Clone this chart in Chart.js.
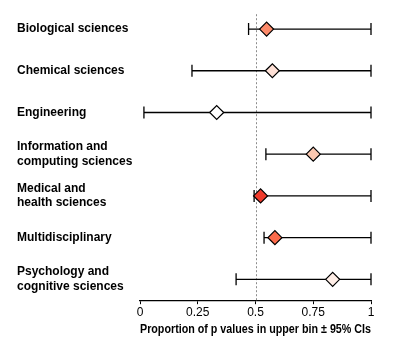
<!DOCTYPE html>
<html>
<head>
<meta charset="utf-8">
<script src="https://cdn.jsdelivr.net/npm/chart.js@4"></script>
<style>
  html, body { margin: 0; padding: 0; background: #ffffff; }
  #wrap { width: 400px; height: 345px; position: relative; }
</style>
</head>
<body>
<div id="wrap"><canvas id="chart"></canvas></div>
<script>
// Research fields (multi-line labels as arrays)
const fields = [
  ['Biological sciences'],
  ['Chemical sciences'],
  ['Engineering'],
  ['Information and', 'computing sciences'],
  ['Medical and', 'health sciences'],
  ['Multidisciplinary'],
  ['Psychology and', 'cognitive sciences']
];
// Proportion of p values in the upper bin
const proportion = [0.548, 0.573, 0.332, 0.750, 0.522, 0.584, 0.834];
// 95% confidence limits
const ciLower = [0.470, 0.225, 0.017, 0.545, 0.494, 0.537, 0.416];
const ciUpper = [1.000, 1.000, 1.000, 1.000, 1.000, 1.000, 1.000];
// Marker fill per field
const markerFill = ['#fc8a6a', '#fee0d6', '#ffffff', '#fcc8b0', '#ef3b2c', '#fb6b4b', '#ffeee7'];
const xTicks = [0, 0.25, 0.5, 0.75, 1];

const points = proportion.map((v, i) => ({ x: v, y: i }));
const FONT = 'Liberation Sans, Arial, sans-serif';

// Reference line at 0.5 and the confidence-interval whiskers
const whiskers = {
  id: 'whiskers',
  beforeDatasetsDraw(chart) {
    const { ctx, chartArea, scales: { x, y } } = chart;
    ctx.save();
    ctx.strokeStyle = '#8c8c8c';
    ctx.lineWidth = 1;
    ctx.setLineDash([2, 2]);
    const xr = Math.round(x.getPixelForValue(0.5)) + 0.5;
    ctx.beginPath();
    ctx.moveTo(xr, chartArea.top + 6);
    ctx.lineTo(xr, chartArea.bottom);
    ctx.stroke();
    ctx.setLineDash([]);
    ctx.strokeStyle = '#000000';
    ctx.lineWidth = 1.3;
    const cap = 6;
    proportion.forEach((_, i) => {
      const yp = y.getPixelForValue(i);
      const x0 = x.getPixelForValue(ciLower[i]);
      const x1 = x.getPixelForValue(ciUpper[i]);
      ctx.beginPath();
      ctx.moveTo(x0, yp); ctx.lineTo(x1, yp);
      ctx.moveTo(x0, yp - cap); ctx.lineTo(x0, yp + cap);
      ctx.moveTo(x1, yp - cap); ctx.lineTo(x1, yp + cap);
      ctx.stroke();
    });
    ctx.restore();
  }
};

new Chart(document.getElementById('chart'), {
  type: 'scatter',
  data: {
    labels: fields,
    datasets: [{
      data: points,
      pointStyle: 'rectRot',
      pointRadius: 7,
      pointHoverRadius: 7,
      pointBackgroundColor: markerFill,
      pointBorderColor: '#000000',
      pointBorderWidth: 1.2
    }]
  },
  options: {
    responsive: true,
    maintainAspectRatio: false,
    animation: false,
    layout: { padding: { left: 17, right: 29, top: 8, bottom: 8 } },
    plugins: { legend: { display: false }, tooltip: { enabled: false } },
    scales: {
      x: {
        type: 'linear',
        min: 0,
        max: 1,
        afterBuildTicks(scale) { scale.ticks = xTicks.map(v => ({ value: v })); },
        ticks: {
          color: '#000000',
          font: { family: FONT, size: 12 },
          padding: 1,
          maxRotation: 0,
          callback: v => String(v)
        },
        grid: { display: true, drawOnChartArea: false, drawTicks: true, tickLength: 4, color: '#000000', lineWidth: 1 },
        border: { display: true, color: '#000000', width: 1.3 },
        title: {
          display: true,
          text: 'Proportion of p values in upper bin ± 95% CIs',
          color: '#000000',
          font: { family: FONT, size: 12, weight: 'bold' },
          padding: { top: 2, bottom: 0 }
        }
      },
      y: {
        type: 'category',
        labels: fields,
        offset: true,
        afterFit(scale) {
          scale.width = 123;
          scale.paddingTop = 0;
          scale.paddingBottom = 0;
        },
        ticks: {
          color: '#000000',
          crossAlign: 'far',
          font: { family: FONT, size: 12, weight: 'bold', lineHeight: 1.2 }
        },
        grid: { display: false },
        border: { display: false }
      }
    }
  },
  plugins: [whiskers]
});
</script>
</body>
</html>
